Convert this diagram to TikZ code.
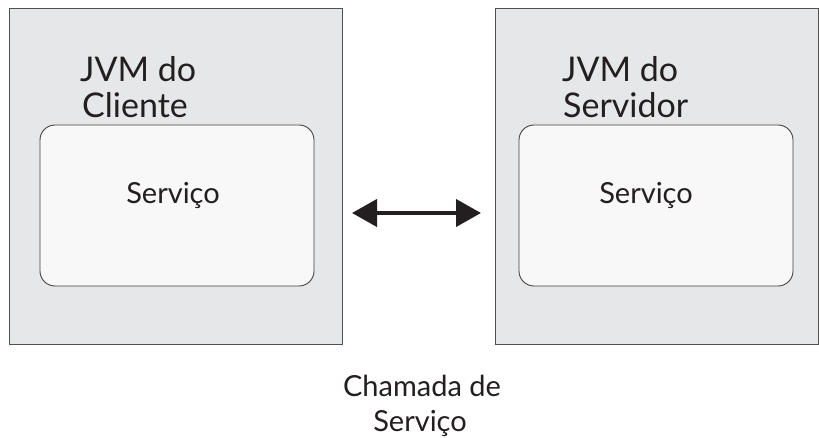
\documentclass[tikz,border=0pt]{standalone}
\usepackage{fontspec}
\setmainfont{Lato}
\usetikzlibrary{arrows.meta}
\definecolor{outerfill}{HTML}{E6E7E8}
\definecolor{innerfill}{HTML}{F8F8F8}
\definecolor{edge}{HTML}{505050}
\definecolor{ink}{HTML}{231F20}
\tikzset{
  outerbox/.style={draw=edge, fill=outerfill, line width=0.9pt},
  innerbox/.style={draw=ink!85, fill=innerfill, line width=0.9pt, rounded corners=15pt},
  bigtxt/.style={anchor=base west, inner sep=0pt, font=\fontsize{34}{40}\selectfont, text=ink},
  midtxt/.style={anchor=base, inner sep=0pt, font=\fontsize{29}{34}\selectfont, text=ink},
  link/.style={line width=4pt, ink, {Triangle[length=25pt,width=27pt]}-{Triangle[length=25pt,width=27pt]}}
}
\begin{document}
\begin{tikzpicture}[x=1pt,y=-1pt]
\useasboundingbox (0,0) rectangle (819,438);
\fill[white] (0,0) rectangle (819,438);
% outer boxes
\draw[outerbox] (9,8) rectangle (342,344);
\draw[outerbox] (495,8) rectangle (818,344);
% inner rounded boxes
\draw[innerbox] (40,125) rectangle (314,286);
\draw[innerbox] (519,125) rectangle (793,286);
% titles
\node[bigtxt] (c1) at (80,82) {JVM do};
\node[bigtxt] (c2) at (82,118) {Cliente};
\node[bigtxt] (s1) at (562,82) {JVM do};
\node[bigtxt] (s2) at (563,118) {Servidor};
% service labels
\node[midtxt] (svc1) at (173,204) {Serviço};
\node[midtxt] (svc2) at (646,204) {Serviço};
% arrow
\coordinate (aL) at (352,213);
\coordinate (aR) at (481,213);
\draw[link] (aL) -- (aR);
% call label
\node[midtxt] (call1) at (422,396) {Chamada de};
\node[midtxt] (call2) at (420,431) {Serviço};
\end{tikzpicture}
\end{document}
